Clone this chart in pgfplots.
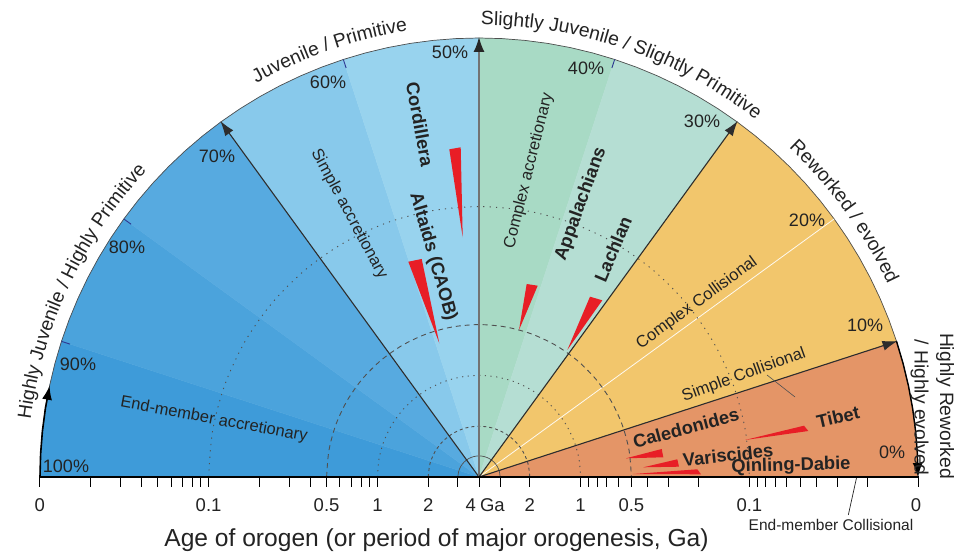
\documentclass[border=0pt]{standalone}
\usepackage{pgfplots}
\pgfplotsset{compat=1.18}
\usepgfplotslibrary{polar}
\usetikzlibrary{arrows.meta,decorations.text}
\usepackage{fontspec}
\setmainfont{Liberation Sans}

% sector colours
\definecolor{accA}{RGB}{62,155,217}
\definecolor{accB}{RGB}{75,163,220}
\definecolor{accC}{RGB}{87,170,224}
\definecolor{simA}{RGB}{136,201,235}
\definecolor{simB}{RGB}{152,211,238}
\definecolor{cpxA}{RGB}{168,218,197}
\definecolor{cpxB}{RGB}{181,222,211}
\definecolor{colC}{RGB}{242,198,108}
\definecolor{colS}{RGB}{228,149,103}
\definecolor{oro}{RGB}{232,30,38}
\definecolor{navy}{RGB}{45,55,145}
\definecolor{txt}{RGB}{35,35,35}
\definecolor{gridc}{RGB}{80,80,80}
\definecolor{rad}{RGB}{45,45,45}
\definecolor{midline}{RGB}{115,115,115}

\newcommand\arcfont{\fontsize{19.3}{22}\selectfont\color{txt}}

\begin{document}
\begin{tikzpicture}[
  pct/.style={font=\fontsize{18}{21}\selectfont, text=txt, inner sep=0pt},
  inner/.style={font=\fontsize{16.5}{19}\selectfont, text=txt, inner sep=0pt},
  orog/.style={font=\fontsize{18.3}{21}\selectfont\bfseries, text=txt, inner sep=0pt},
  tlab/.style={font=\fontsize{18.5}{21}\selectfont, text=txt, inner sep=0pt, anchor=base},
]
\begin{axis}[
  width=968pt, height=551pt, scale only axis,
  xmin=-479, xmax=489, ymin=-74, ymax=477,
  hide axis, clip=false,
]
% ---- sectors (angle in degrees, radius) ----
\addplot[data cs=polar, fill=accA, draw=accA, line width=0.3pt] coordinates {(0,0) (180,439) (177,439) (174,439) (171,439) (168,439) (165,439) (162,439)} -- cycle;
\addplot[data cs=polar, fill=accB, draw=accB, line width=0.3pt] coordinates {(0,0) (162,439) (159,439) (156,439) (153,439) (150,439) (147,439) (144,439)} -- cycle;
\addplot[data cs=polar, fill=accC, draw=accC, line width=0.3pt] coordinates {(0,0) (144,439) (141,439) (138,439) (135,439) (132,439) (129,439) (126,439)} -- cycle;
\addplot[data cs=polar, fill=simA, draw=simA, line width=0.3pt] coordinates {(0,0) (126,439) (123,439) (120,439) (117,439) (114,439) (111,439) (108,439)} -- cycle;
\addplot[data cs=polar, fill=simB, draw=simB, line width=0.3pt] coordinates {(0,0) (108,439) (105,439) (102,439) (99,439) (96,439) (93,439) (90,439)} -- cycle;
\addplot[data cs=polar, fill=cpxA, draw=cpxA, line width=0.3pt] coordinates {(0,0) (90,439) (87,439) (84,439) (81,439) (78,439) (75,439) (72,439)} -- cycle;
\addplot[data cs=polar, fill=cpxB, draw=cpxB, line width=0.3pt] coordinates {(0,0) (72,439) (69,439) (66,439) (63,439) (60,439) (57,439) (54,439)} -- cycle;
\addplot[data cs=polar, fill=colC, draw=colC, line width=0.3pt] coordinates {(0,0) (54,439) (51,439) (48,439) (45,439) (42,439) (39,439) (36,439) (33,439) (30,439) (27,439) (24,439) (21,439) (18,439)} -- cycle;
\addplot[data cs=polar, fill=colS, draw=colS, line width=0.3pt] coordinates {(0,0) (18,439) (15,439) (12,439) (9,439) (6,439) (3,439) (0,439)} -- cycle;

% outer rim
\addplot[data cs=polar, draw=gridc, line width=0.7pt] coordinates {(180,439) (177,439) (174,439) (171,439) (168,439) (165,439) (162,439) (159,439) (156,439) (153,439) (150,439) (147,439) (144,439) (141,439) (138,439) (135,439) (132,439) (129,439) (126,439) (123,439) (120,439) (117,439) (114,439) (111,439) (108,439) (105,439) (102,439) (99,439) (96,439) (93,439) (90,439) (87,439) (84,439) (81,439) (78,439) (75,439) (72,439) (69,439) (66,439) (63,439) (60,439) (57,439) (54,439) (51,439) (48,439) (45,439) (42,439) (39,439) (36,439) (33,439) (30,439) (27,439) (24,439) (21,439) (18,439) (15,439) (12,439) (9,439) (6,439) (3,439) (0,439)};

% 20% divider inside the collisional field
\addplot[data cs=polar, draw=white!90!colC, line width=0.8pt] coordinates {(36,0) (36,439)};

% age circles: 0.1 Ga, 0.5 Ga, 1 Ga, 2 Ga, 3 Ga
\addplot[data cs=polar, smooth, draw=gridc, line width=0.9pt, dash pattern=on 1.2pt off 5.2pt] coordinates {(180,270.4) (170,270.4) (160,270.4) (150,270.4) (140,270.4) (130,270.4) (120,270.4) (110,270.4) (100,270.4) (90,270.4) (80,270.4) (70,270.4) (60,270.4) (50,270.4) (40,270.4) (30,270.4) (20,270.4) (10,270.4) (0,270.4)};
\addplot[data cs=polar, smooth, draw=gridc, line width=0.9pt, dash pattern=on 5pt off 4pt] coordinates {(180,152.4) (170,152.4) (160,152.4) (150,152.4) (140,152.4) (130,152.4) (120,152.4) (110,152.4) (100,152.4) (90,152.4) (80,152.4) (70,152.4) (60,152.4) (50,152.4) (40,152.4) (30,152.4) (20,152.4) (10,152.4) (0,152.4)};
\addplot[data cs=polar, smooth, draw=gridc, line width=0.9pt, dash pattern=on 1.2pt off 4.5pt] coordinates {(180,101.6) (170,101.6) (160,101.6) (150,101.6) (140,101.6) (130,101.6) (120,101.6) (110,101.6) (100,101.6) (90,101.6) (80,101.6) (70,101.6) (60,101.6) (50,101.6) (40,101.6) (30,101.6) (20,101.6) (10,101.6) (0,101.6)};
\addplot[data cs=polar, smooth, draw=gridc, line width=0.9pt, dash pattern=on 3pt off 3pt] coordinates {(180,50.8) (165,50.8) (150,50.8) (135,50.8) (120,50.8) (105,50.8) (90,50.8) (75,50.8) (60,50.8) (45,50.8) (30,50.8) (15,50.8) (0,50.8)};
\addplot[data cs=polar, smooth, draw=gridc, line width=0.7pt] coordinates {(180,21.1) (165,21.1) (150,21.1) (135,21.1) (120,21.1) (105,21.1) (90,21.1) (75,21.1) (60,21.1) (45,21.1) (30,21.1) (15,21.1) (0,21.1)};

% short navy marks at 90, 80, 60 and 40 %
\addplot[data cs=polar, draw=navy, line width=0.9pt] coordinates {(162,430) (162,439)};
\addplot[data cs=polar, draw=navy, line width=0.9pt] coordinates {(144,430) (144,439)};
\addplot[data cs=polar, draw=navy, line width=0.9pt] coordinates {(108,430) (108,439)};
\addplot[data cs=polar, draw=navy, line width=0.9pt] coordinates {(72,430) (72,439)};

% main class boundaries (70, 50, 30, 10 %)
\addplot[data cs=polar, draw=rad, line width=1.1pt, -{Latex[length=15pt,width=10pt]}] coordinates {(126,0) (126,440)};
\addplot[data cs=polar, draw=midline, line width=1.6pt, -{Latex[length=15pt,width=11pt,color=black!85]}] coordinates {(90,0) (90,440)};
\addplot[data cs=polar, draw=rad, line width=1.1pt, -{Latex[length=15pt,width=10pt]}] coordinates {(54,0) (54,440)};
\addplot[data cs=polar, draw=rad, line width=1.1pt, -{Latex[length=15pt,width=10pt]}] coordinates {(18,0) (18,440)};

% end-member arrows along the rim
\addplot[data cs=polar, draw=black, line width=1.6pt, -{Latex[length=14pt,width=10pt]}] coordinates {(180,439) (177,439) (174,439) (171,439) (168,439)};
\addplot[data cs=polar, draw=black, line width=1.4pt, -{Latex[length=14pt,width=10pt]}] coordinates {(18,439) (15,439) (12,439) (9,439) (6,439) (3,439) (0,439)};

% orogens
\addplot[fill=oro, draw=none] coordinates {(-29.7,327.7) (-18.3,329.7) (-16.3,239.7)} -- cycle;  % Cordillera
\addplot[fill=oro, draw=none] coordinates {(-70.7,215.3) (-57.3,218) (-39.7,133.7)} -- cycle;     % Altaids
\addplot[fill=oro, draw=none] coordinates {(47.7,193) (58.7,191.3) (40,147)} -- cycle;            % Appalachians
\addplot[fill=oro, draw=none] coordinates {(111,180.3) (123.3,176.7) (88.3,127)} -- cycle;        % Lachlan
\addplot[fill=oro, draw=none] coordinates {(147,18.7) (182.7,28) (184.3,19.7)} -- cycle;          % Caledonides
\addplot[fill=oro, draw=none] coordinates {(266,37) (325,51.3) (329.3,46)} -- cycle;              % Tibet
\addplot[fill=oro, draw=none] coordinates {(164.3,9.7) (198.3,17.7) (200,10.3)} -- cycle;         % Variscides
\addplot[fill=oro, draw=none] coordinates {(154.3,3) (218.3,7.7) (222,2.7)} -- cycle;             % Qinling-Dabie

% leader lines
\addplot[draw=gridc, line width=0.6pt] coordinates {(288,102) (316,80)};
\addplot[draw=txt, line width=0.7pt] coordinates {(369.3,-38) (377.7,0)};

% age axis: baseline and ticks
\addplot[draw=black, line width=1.6pt] coordinates {(-440,0) (440,0)};
\addplot[ycomb, draw=black, line width=0.9pt] coordinates {
 (-439.2,-10) (-388.4,-10) (-358.7,-10) (-337.6,-10) (-321.2,-10) (-307.9,-10) (-296.6,-10) (-286.8,-10) (-278.1,-10)
 (-270.4,-10) (-219.6,-10) (-189.9,-10) (-168.8,-10) (-152.4,-10) (-139.1,-10) (-127.8,-10) (-118.0,-10) (-109.3,-10)
 (-101.6,-10) (-50.8,-10) (-21.1,-10) (0,-10)
 (21.1,-10) (50.8,-10) (101.6,-10) (109.3,-10) (118.0,-10) (127.8,-10) (139.1,-10) (152.4,-10) (168.8,-10) (189.9,-10)
 (219.6,-10) (270.4,-10) (278.1,-10) (286.8,-10) (296.6,-10) (307.9,-10) (321.2,-10) (337.6,-10) (358.7,-10) (388.4,-10) (439.2,-10)};

\node[tlab] at (axis cs:-439.2,-34) {0};
\node[tlab] at (axis cs:-270.4,-34) {0.1};
\node[tlab] at (axis cs:-152.4,-34) {0.5};
\node[tlab] at (axis cs:-101.6,-34) {1};
\node[tlab] at (axis cs:-50.8,-34) {2};
\node[tlab] at (axis cs:0,-34) {\makebox[0pt][r]{4\hspace{3pt}}\makebox[0pt][l]{\hspace{1pt}Ga}};
\node[tlab] at (axis cs:50.8,-34) {2};
\node[tlab] at (axis cs:101.6,-34) {1};
\node[tlab] at (axis cs:152.4,-34) {0.5};
\node[tlab] at (axis cs:270.4,-34) {0.1};
\node[tlab] at (axis cs:437,-34) {0};
\node[anchor=base, font=\fontsize{24.6}{28}\selectfont, text=txt, inner sep=0pt] at (axis cs:-42.5,-69.5) {Age of orogen (or period of major orogenesis, Ga)};
\node[anchor=base, font=\fontsize{15.5}{18}\selectfont, text=txt, inner sep=0pt] at (axis cs:352,-53) {End-member Collisional};

% percentage labels
\node[pct] at (axis cs:-413,11) {100\%};
\node[pct] at (axis cs:-401,113) {90\%};
\node[pct] at (axis cs:-352,230) {80\%};
\node[pct] at (axis cs:-262,321) {70\%};
\node[pct] at (axis cs:-151,395) {60\%};
\node[pct] at (axis cs:-29,425) {50\%};
\node[pct] at (axis cs:107,409) {40\%};
\node[pct] at (axis cs:223,356) {30\%};
\node[pct] at (axis cs:328,257) {20\%};
\node[pct] at (axis cs:386,152) {10\%};
\node[pct] at (axis cs:413,25) {0\%};

% field names
\node[inner, rotate=-10.5] at (axis cs:-265,57) {End-member accretionary};
\node[inner, rotate=-61.8] at (axis cs:-130,263) {Simple accretionary};
\node[inner, rotate=76] at (axis cs:50,306) {Complex accretionary};
\node[inner, rotate=36] at (axis cs:218,174) {Complex Collisional};
\node[inner, rotate=19.8] at (axis cs:265,102) {Simple Collisional};

% orogen names
\node[orog, rotate=-79.6] at (axis cs:-59,353) {Cordillera};
\node[orog, rotate=-74] at (axis cs:-46,220) {Altaids (CAOB)};
\node[orog, rotate=70] at (axis cs:102,273) {Appalachians};
\node[orog, rotate=67] at (axis cs:134,228) {Lachlan};
\node[orog, rotate=15] at (axis cs:207,49) {Caledonides};
\node[orog, rotate=13] at (axis cs:359,60) {Tibet};
\node[orog, rotate=6] at (axis cs:249,22) {Variscides};
\node[orog, rotate=1.5] at (axis cs:312,11) {Qinling-Dabie};

% rim captions
\path[decorate, decoration={text along path, text align=center, text={|\arcfont|Highly Juvenile / Highly Primitive}}]
  (axis cs:{452*cos(176)},{452*sin(176)}) arc[start angle=176, end angle=134, radius=452pt];
\path[decorate, decoration={text along path, text align=center, text={|\arcfont|Juvenile / Primitive}}]
  (axis cs:{452*cos(129.3)},{452*sin(129.3)}) arc[start angle=129.3, end angle=89.3, radius=452pt];
\path[decorate, decoration={text along path, text align=center, text={|\arcfont|Slightly Juvenile / Slightly Primitive}}]
  (axis cs:{452*cos(95)},{452*sin(95)}) arc[start angle=95, end angle=47, radius=452pt];
\path[decorate, decoration={text along path, text align=center, text={|\arcfont|Reworked / evolved}}]
  (axis cs:{452*cos(58)},{452*sin(58)}) arc[start angle=58, end angle=14, radius=452pt];
\node[rotate=-90, font=\arcfont, inner sep=0pt] at (axis cs:466,71) {Highly Reworked};
\node[rotate=-90, font=\arcfont, inner sep=0pt] at (axis cs:440.5,69.5) {/ Highly evolved};

\coordinate (bbll) at (axis cs:-479,-74);
\coordinate (bbur) at (axis cs:489,477);
\end{axis}
\pgfresetboundingbox
\path (bbll) rectangle (bbur);
\end{tikzpicture}
\end{document}
